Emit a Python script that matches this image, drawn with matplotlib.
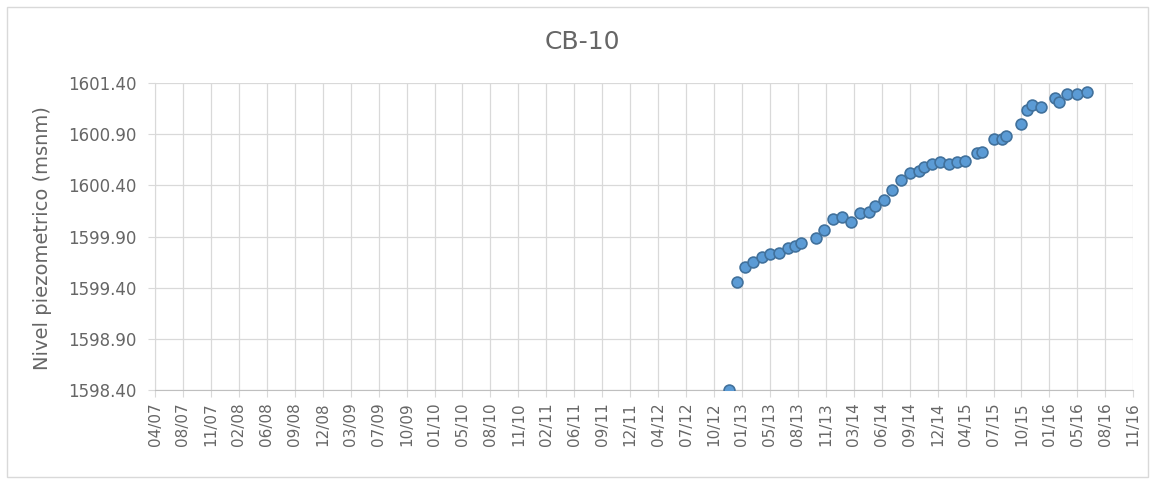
import numpy as np
import pandas as pd
import matplotlib
matplotlib.use("Agg")
import matplotlib.pyplot as plt
import matplotlib.dates as mdates
from matplotlib.patches import Rectangle

plt.rcParams['font.family'] = ['DejaVu Sans']

# Data
dates = ["2012-12-12", "2013-01-10", "2013-02-07", "2013-03-08", "2013-04-07",
         "2013-05-07", "2013-06-09", "2013-07-08", "2013-08-05", "2013-08-26",
         "2013-10-19", "2013-11-16", "2013-12-17", "2014-01-19", "2014-02-20",
         "2014-03-25", "2014-04-24", "2014-05-18", "2014-06-17", "2014-07-17",
         "2014-08-19", "2014-09-20", "2014-10-23", "2014-11-09", "2014-12-07",
         "2015-01-03", "2015-02-04", "2015-03-06", "2015-04-03", "2015-05-17",
         "2015-06-04", "2015-07-15", "2015-08-14", "2015-08-30", "2015-10-21",
         "2015-11-12", "2015-11-30", "2016-01-01", "2016-02-21", "2016-03-04",
         "2016-04-03", "2016-05-09", "2016-06-14"]
nivel = [1598.40, 1599.46, 1599.60, 1599.65, 1599.70,
         1599.73, 1599.74, 1599.79, 1599.81, 1599.84,
         1599.89, 1599.96, 1600.07, 1600.09, 1600.04,
         1600.13, 1600.14, 1600.20, 1600.26, 1600.35,
         1600.45, 1600.52, 1600.54, 1600.58, 1600.61,
         1600.63, 1600.61, 1600.63, 1600.64, 1600.72,
         1600.73, 1600.85, 1600.85, 1600.88, 1601.00,
         1601.14, 1601.18, 1601.17, 1601.25, 1601.21,
         1601.29, 1601.29, 1601.31]

# Excel date axis: start date, major unit of 100 days
axis_start = "2007-04-28"
n_ticks = 36
y_ticks = [1598.40, 1598.90, 1599.40, 1599.90, 1600.40, 1600.90, 1601.40]

x = pd.to_datetime(dates)
tick_dates = pd.to_datetime(axis_start) + pd.to_timedelta(np.arange(n_ticks) * 100, unit="D")

fig = plt.figure(figsize=(11.55, 4.83), dpi=100)
ax = fig.add_axes([0.1342, 0.1925, 0.847, 0.6357])

# chart border like Excel
fig.patches.append(Rectangle((0.006, 0.012), 0.988, 0.974, transform=fig.transFigure,
                             fill=False, edgecolor='#D9D9D9', linewidth=1))

ax.plot(x, nivel, linestyle='none', marker='o', markersize=7.8,
        markerfacecolor='#5B9BD5', markeredgecolor='#41719C', markeredgewidth=1.2, zorder=3)

ax.set_xlim(tick_dates[0], tick_dates[-1])
ax.set_ylim(y_ticks[0], y_ticks[-1])
ax.set_xticks(tick_dates)
ax.xaxis.set_major_formatter(mdates.DateFormatter('%m/%y'))
ax.set_yticks(y_ticks)
ax.yaxis.set_major_formatter(plt.FuncFormatter(lambda v, p: '%.2f' % v))

for lbl in ax.get_xticklabels():
    lbl.set_rotation(90)

txt_col = '#666666'
ax.tick_params(axis='x', colors='#D9D9D9', labelcolor=txt_col, labelsize=11, length=5, pad=4)
ax.tick_params(axis='y', colors='#D9D9D9', labelcolor=txt_col, labelsize=12, length=5, pad=8)

ax.grid(True, color='#D9D9D9', linewidth=0.9)
ax.set_axisbelow(True)
for side in ['top', 'right']:
    ax.spines[side].set_visible(False)
ax.spines['left'].set_color('#D9D9D9')
ax.spines['bottom'].set_color('#BFBFBF')

fig.text(0.037, 0.508, 'Nivel piezometrico (msnm)', rotation=90, ha='center', va='center',
         color=txt_col, fontsize=14)
fig.text(0.5043, 0.914, 'CB-10', ha='center', va='center', color=txt_col, fontsize=18)

fig.savefig('out.png', dpi=100)
